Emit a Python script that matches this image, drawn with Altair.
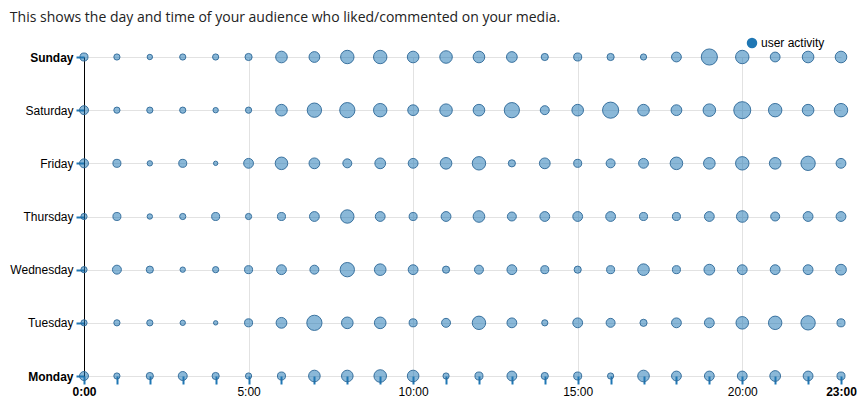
import altair as alt
import pandas as pd

# Day order bottom (0) to top (6)
days = ["Monday", "Tuesday", "Wednesday", "Thursday", "Friday", "Saturday", "Sunday"]
hours = list(range(24))
tick_hours = [0, 5, 10, 15, 20, 23]
series_name = "user activity"
title_text = "This shows the day and time of your audience who liked/commented on your media."

# activity per hour (0:00 .. 23:00)
monday = [25, 12, 16, 25, 16, 12, 20, 42, 42, 49, 42, 12, 20, 30, 16, 20, 12, 42, 30, 30, 30, 36, 30, 20]
tuesday = [12, 12, 12, 9, 6, 20, 36, 72, 42, 42, 20, 25, 56, 30, 12, 30, 25, 16, 30, 30, 49, 56, 64, 20]
wednesday = [12, 25, 16, 9, 12, 20, 30, 25, 64, 42, 30, 16, 25, 30, 20, 16, 20, 42, 20, 36, 30, 30, 30, 36]
thursday = [12, 20, 9, 12, 20, 12, 20, 30, 56, 30, 20, 30, 42, 25, 30, 30, 30, 20, 20, 30, 42, 25, 30, 30]
friday = [25, 20, 9, 20, 6, 30, 49, 36, 25, 36, 30, 42, 56, 16, 36, 20, 25, 30, 49, 42, 56, 42, 64, 30]
saturday = [25, 12, 12, 12, 9, 12, 42, 64, 72, 56, 36, 49, 42, 72, 25, 42, 81, 42, 36, 49, 90, 56, 42, 56]
sunday = [20, 12, 9, 12, 12, 16, 42, 36, 56, 56, 42, 49, 42, 36, 16, 20, 16, 12, 30, 81, 56, 30, 42, 42]

activity = [monday, tuesday, wednesday, thursday, friday, saturday, sunday]

rows = []
for di, vals in enumerate(activity):
    for h, v in zip(hours, vals):
        rows.append({"day": di, "hour": h, "activity": v, "series": series_name})
df = pd.DataFrame(rows)

FONT = "Liberation Sans"
BLUE = "#1f77b4"

day_array = "[" + ",".join("'%s'" % d for d in days) + "]"
tick_array = "[" + ",".join(str(t) for t in tick_hours) + "]"

chart = alt.Chart(df).mark_circle(
    fillOpacity=0.52,
    stroke="#2c6797",
    strokeWidth=1,
    strokeOpacity=0.9,
).encode(
    x=alt.X(
        "hour:Q",
        scale=alt.Scale(domain=[0, 23], nice=False, zero=False),
        axis=alt.Axis(
            values=hours,
            title=None,
            labelExpr="indexof(%s, datum.value) >= 0 ? datum.value + ':00' : ''" % tick_array,
            labelFontWeight=alt.expr("datum.value == 0 || datum.value == 23 ? 'bold' : 'normal'"),
            labelFont=FONT,
            labelFontSize=12,
            labelColor="#000",
            labelPadding=2,
            labelOverlap=False,
            labelFlush=False,
            labelBound=False,
            grid=True,
            gridColor="#e2e2e2",
            gridOpacity=alt.expr("indexof([5,10,15,20], datum.value) >= 0 ? 1 : 0"),
            domain=False,
            ticks=True,
            tickColor=BLUE,
            tickSize=8,
            tickWidth=2,
        ),
    ),
    y=alt.Y(
        "day:Q",
        scale=alt.Scale(domain=[0, 6], nice=False, zero=False),
        axis=alt.Axis(
            values=list(range(len(days))),
            title=None,
            labelExpr="%s[datum.value]" % day_array,
            labelFontWeight=alt.expr("datum.value == 0 || datum.value == 6 ? 'bold' : 'normal'"),
            labelFont=FONT,
            labelFontSize=12,
            labelColor="#000",
            labelPadding=3,
            labelOverlap=False,
            labelFlush=False,
            labelBound=False,
            grid=True,
            gridColor="#e2e2e2",
            domain=True,
            domainColor="#000",
            domainWidth=1,
            ticks=True,
            tickColor=BLUE,
            tickSize=8,
            tickWidth=2,
        ),
    ),
    size=alt.Size(
        "activity:Q",
        scale=alt.Scale(zero=True, range=[0, 290]),
        legend=None,
    ),
    color=alt.Color(
        "series:N",
        scale=alt.Scale(range=[BLUE]),
        legend=alt.Legend(
            title=None,
            orient="none",
            legendX=662,
            legendY=-20,
            symbolType="circle",
            symbolSize=110,
            symbolOpacity=1,
            symbolFillColor=BLUE,
            symbolStrokeWidth=0,
            labelFont=FONT,
            labelFontSize=12,
            labelColor="#000",
            labelOffset=3,
            padding=0,
        ),
    ),
).properties(
    width=757,
    height=319,
    title=alt.Title(
        title_text,
        anchor="start",
        font="Open Sans",
        fontSize=14,
        fontWeight="normal",
        color="#222",
        offset=12,
    ),
    padding={"left": 1, "top": 3, "right": 0, "bottom": 0},
).configure_view(strokeWidth=0)

chart.save("out.html", embed_options={"renderer": "svg", "actions": False})
